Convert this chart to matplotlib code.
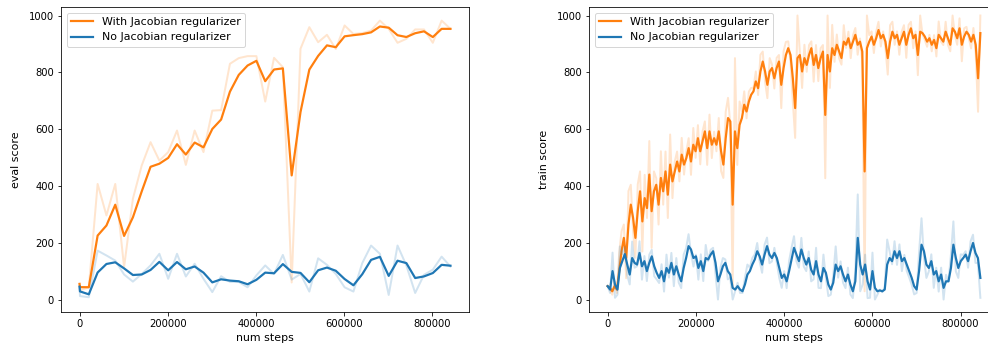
import numpy as np
import matplotlib
matplotlib.use('Agg')
import matplotlib.pyplot as plt

# eval curves (raw values, one eval every 20000 steps after an initial one)
eval_steps = np.concatenate([[0], np.arange(1000, 841001, 20000)])
eval_jac = [55, 32, 43, 407, 296, 407, 114, 355, 472, 554, 489,
            519, 595, 474, 595, 519, 665, 667, 830, 850, 857,
            857, 697, 851, 818, 60, 883, 959, 906, 932, 882,
            965, 935, 938, 947, 982, 953, 904, 918, 951, 951,
            904, 982, 953]
eval_nojac = [45, 12, 8, 172, 155, 137, 88, 63, 90, 120, 161,
              73, 161, 81, 126, 73, 26, 82, 62, 62, 43,
              85, 120, 90, 157, 70, 90, 28, 145, 122, 90,
              43, 28, 128, 190, 161, 16, 190, 120, 23, 87,
              105, 151, 116]

# train curves (smoothed values)
train_jac = [47, 41, 29, 47, 35, 100, 170, 217, 146, 264, 334, 287, 217, 311, 381,
             275, 357, 322, 440, 311, 381, 404, 334, 428, 381, 451, 369, 475, 416,
             451, 486, 451, 510, 475, 498, 533, 486, 545, 522, 568, 522, 557, 592,
             533, 592, 545, 568, 545, 592, 522, 475, 568, 639, 627,
             334,
             592, 533, 615, 639, 686, 662, 697, 721, 733, 768, 744, 803, 838, 803,
             756, 803, 815, 779, 815, 838, 756, 815, 861, 885, 861, 779,
             674,
             850, 861, 803, 850, 826, 861, 885, 826, 861, 815, 850, 873, 650, 861,
             803, 885, 861, 897, 873, 850, 908, 897, 920, 885, 908, 932,
             897, 908, 873, 451, 885, 908, 926, 897, 920, 949, 920, 932, 908, 850,
             908, 943, 920, 932, 897, 920, 943, 897, 932, 955, 920, 932, 861, 943,
             938, 926, 908, 920, 897, 914, 885, 932, 920, 908, 943, 920, 897, 955,
             943, 920, 955, 897, 926, 943, 932, 908, 932, 897, 779, 938]
train_nojac = [47, 35, 100, 53, 35, 111, 135, 160, 123, 88,
               146, 129, 123, 164, 117, 135, 100, 129, 152, 117,
               94, 76, 100, 64, 111, 94, 129, 88, 117, 88,
               64, 111, 146, 188, 176, 146, 152, 111, 135, 100,
               146, 141, 158, 170, 129, 64, 88, 117, 129, 100,
               88, 41, 35, 47, 35, 29, 53, 88, 100, 123,
               141, 170, 152, 123, 158, 188, 158, 146, 164, 146,
               111, 76, 88, 64, 100, 141, 182, 158, 135, 176,
               146, 123, 146, 105, 88, 135, 88, 64, 111, 94,
               53, 35, 59, 123, 100, 117, 88, 64, 88, 53,
               29, 64, 217, 123, 88, 123, 64, 35, 100, 41,
               29, 32, 29, 35,
               123, 146, 135, 170, 146, 170, 135, 146, 123, 100,
               76, 47, 35, 100, 193, 170, 123, 111, 135, 88,
               100, 64, 88, 41, 64, 64, 111, 193, 146, 111,
               135, 146, 158, 135, 170, 199, 164, 146, 76]

W = 0.5


def smooth(vals, w=W):
    out = []
    s = vals[0]
    for v in vals:
        s = w * s + (1 - w) * v
        out.append(s)
    return np.array(out)


def unsmooth(vals, w=W):
    # undo the running average to get back the raw curve
    vals = np.asarray(vals, dtype=float)
    raw = np.empty_like(vals)
    raw[0] = vals[0]
    raw[1:] = (vals[1:] - w * vals[:-1]) / (1 - w)
    return np.clip(raw, 0, 1000)


plt.rcParams['font.size'] = 11
plt.rcParams['xtick.labelsize'] = 10
plt.rcParams['ytick.labelsize'] = 10

fig = plt.figure(figsize=(988 / 72, 351 / 72), dpi=72)
ax1 = fig.add_axes([61 / 988, 39 / 351, 408 / 988, 305 / 351])
ax2 = fig.add_axes([589 / 988, 39 / 351, 410 / 988, 305 / 351])

tj = np.linspace(0, 845000, len(train_jac))
tn = np.linspace(0, 845000, len(train_nojac))
panels = [
    (ax1, eval_steps, eval_jac, smooth(eval_jac),
     eval_steps, eval_nojac, smooth(eval_nojac), 'eval score'),
    (ax2, tj, unsmooth(train_jac), train_jac,
     tn, unsmooth(train_nojac), train_nojac, 'train score'),
]

for ax, xj, rj, sj, xn, rn, sn, ylab in panels:
    ax.plot(xj, rj, color='C1', alpha=0.2, lw=2)
    lj, = ax.plot(xj, sj, color='C1', lw=2.2)
    ax.plot(xn, rn, color='C0', alpha=0.2, lw=2)
    ln, = ax.plot(xn, sn, color='C0', lw=2.2)
    ax.set_ylim(-44, 1030)
    ax.set_xlabel('num steps')
    ax.set_ylabel(ylab, labelpad=8)
    ax.legend([lj, ln], ['With Jacobian regularizer', 'No Jacobian regularizer'],
              loc='upper left')

fig.savefig('out.png', dpi=72)
